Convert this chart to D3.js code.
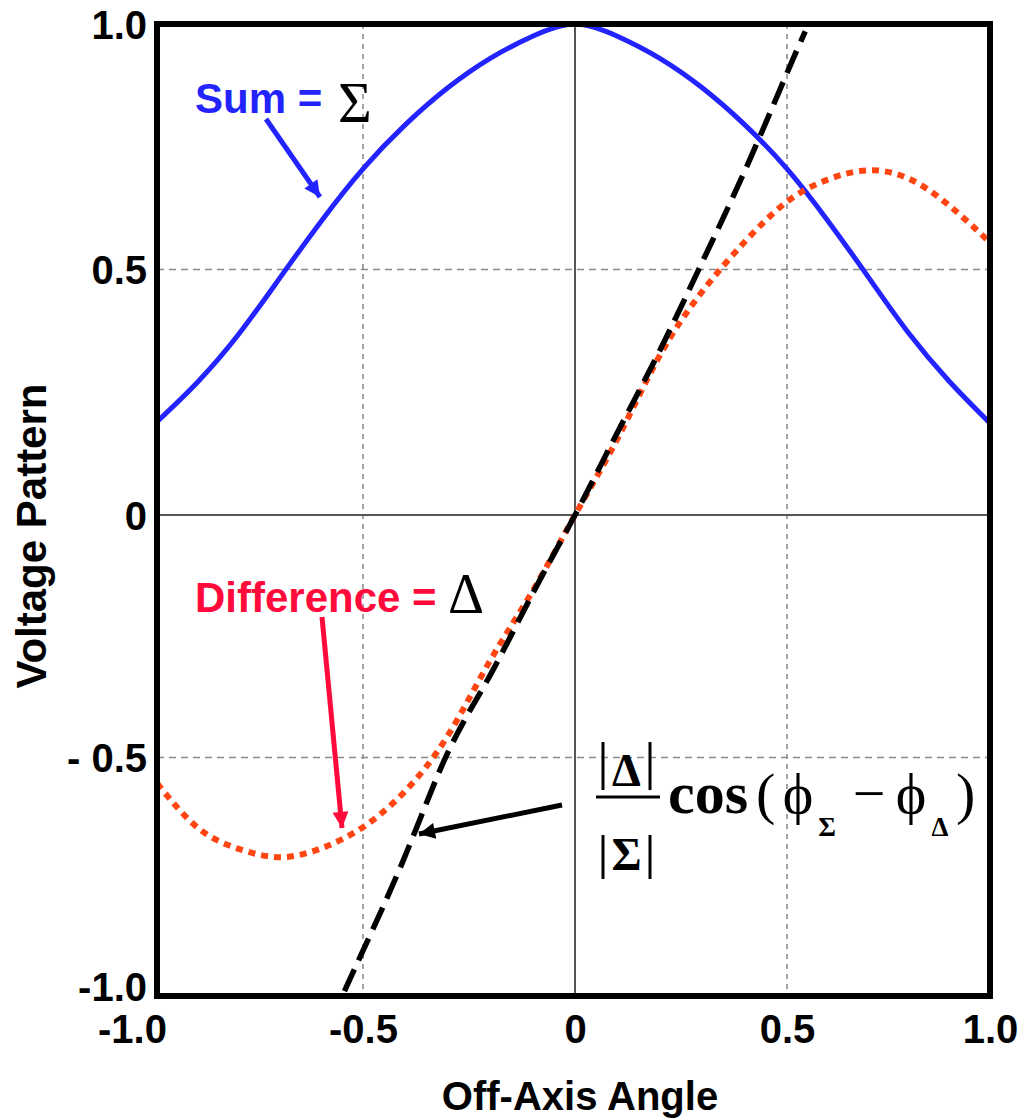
<!DOCTYPE html>
<html>
<head>
<meta charset="utf-8">
<script src="https://cdn.jsdelivr.net/npm/d3@7"></script>
<style>
  body { margin: 0; background: #fff; }
  svg { display: block; }
  .lbl { font-family: "Liberation Sans", Arial, sans-serif; font-weight: bold; }
  .math { font-family: "Liberation Serif", "Times New Roman", serif; font-weight: bold; }
</style>
</head>
<body>
<div id="chart"></div>
<script>
// values
var angles = [-1, -0.9, -0.8, -0.7, -0.6, -0.5, -0.4, -0.3, -0.2, -0.1, 0,
              0.1, 0.2, 0.3, 0.4, 0.5, 0.6, 0.7, 0.8, 0.9, 1];
var sumVals = [0.19, 0.272, 0.37, 0.485, 0.60, 0.705, 0.795, 0.87, 0.93, 0.975, 1.0,
               0.975, 0.93, 0.87, 0.795, 0.705, 0.60, 0.485, 0.37, 0.272, 0.187];
var diffVals = [-0.554, -0.648, -0.692, -0.709, -0.69, -0.646, -0.57, -0.455, -0.30, -0.157, 0,
                0.155, 0.325, 0.455, 0.556, 0.638, 0.683, 0.702, 0.685, 0.63, 0.555];
var ratioAngles = [-0.545, -0.5, -0.4, -0.3, -0.2, -0.1, 0, 0.1, 0.2, 0.3, 0.4, 0.5, 0.545];
var ratioVals = [-0.99, -0.905, -0.705, -0.49, -0.33, -0.162, 0, 0.168, 0.335, 0.515, 0.70, 0.90, 0.985];

var xTicks = [-1, -0.5, 0, 0.5, 1];
var xTickLabels = ['-1.0', '-0.5', '0', '0.5', '1.0'];
var yTicks = [1, 0.5, 0, -0.5, -1];
var yTickLabels = ['1.0', '0.5', '0', '- 0.5', '-1.0'];

var svg = d3.select('#chart')
    .append('svg')
        .attr('width', 1024)
        .attr('height', 1119);

// the original plot is slightly uneven, so the scales are piecewise
var x = d3.scaleLinear()
    .domain([-1, -0.5, 0, 0.5, 1])
    .range([157, 363, 575, 787, 990]);

var y = d3.scaleLinear()
    .domain([-1, -0.5, 0, 0.5, 1])
    .range([996, 757.5, 515, 269.5, 24]);

// grid
svg.selectAll('.vgrid')
    .data(xTicks.filter(d => Math.abs(d) === 0.5))
    .enter()
    .append('line')
        .attr('x1', d => x(d)).attr('x2', d => x(d))
        .attr('y1', y(1)).attr('y2', y(-1))
        .style('stroke', '#8c8c8c')
        .style('stroke-width', 1.6)
        .style('stroke-dasharray', '5,5');

svg.selectAll('.hgrid')
    .data(yTicks.filter(d => Math.abs(d) === 0.5))
    .enter()
    .append('line')
        .attr('y1', d => y(d)).attr('y2', d => y(d))
        .attr('x1', x(-1)).attr('x2', x(1))
        .style('stroke', '#8c8c8c')
        .style('stroke-width', 1.6)
        .style('stroke-dasharray', '7,5');

svg.append('line')
    .attr('x1', x(0)).attr('x2', x(0))
    .attr('y1', y(1)).attr('y2', y(-1))
    .style('stroke', '#555')
    .style('stroke-width', 2);

svg.append('line')
    .attr('x1', x(-1)).attr('x2', x(1))
    .attr('y1', y(0)).attr('y2', y(0))
    .style('stroke', '#555')
    .style('stroke-width', 2);

// curves
var line = d3.line()
    .x(d => x(d[0]))
    .y(d => y(d[1]))
    .curve(d3.curveNatural);

svg.append('path')
    .attr('d', line(d3.zip(angles, sumVals)))
    .style('fill', 'none')
    .style('stroke', '#2323ff')
    .style('stroke-width', 5);

svg.append('path')
    .attr('d', line(d3.zip(angles, diffVals)))
    .style('fill', 'none')
    .style('stroke', '#ff4512')
    .style('stroke-width', 6)
    .style('stroke-dasharray', '7,6');

svg.append('path')
    .attr('d', line(d3.zip(ratioAngles, ratioVals)))
    .style('fill', 'none')
    .style('stroke', '#000')
    .style('stroke-width', 5.5)
    .style('stroke-dasharray', '24,10');

// frame
svg.append('rect')
    .attr('x', x(-1)).attr('y', y(1))
    .attr('width', x(1) - x(-1))
    .attr('height', y(-1) - y(1))
    .style('fill', 'none')
    .style('stroke', '#000')
    .style('stroke-width', 6);

// axes labels
var xAxis = d3.axisBottom(x)
    .tickValues(xTicks)
    .tickFormat((d, i) => xTickLabels[i])
    .tickSize(0)
    .tickPadding(0);

svg.append('g')
    .attr('transform', 'translate(0,1043)')
    .call(xAxis)
    .call(g => g.select('.domain').remove())
    .selectAll('text')
        .attr('class', 'lbl')
        .attr('dy', 0)
        .attr('dx', (d, i) => i === 0 ? -25 : 0)
        .style('font-size', '40px')
        .style('fill', '#000');

var yAxis = d3.axisLeft(y)
    .tickValues(yTicks)
    .tickFormat((d, i) => yTickLabels[i])
    .tickSize(0)
    .tickPadding(0);

svg.append('g')
    .attr('transform', 'translate(147,0)')
    .call(yAxis)
    .call(g => g.select('.domain').remove())
    .selectAll('text')
        .attr('class', 'lbl')
        .attr('dy', (d, i) => i === 4 ? '0.1em' : '0.36em')
        .style('font-size', '40px')
        .style('fill', '#000');

svg.append('text')
    .attr('class', 'lbl')
    .attr('x', 580).attr('y', 1110)
    .attr('text-anchor', 'middle')
    .style('font-size', '40px')
    .text('Off-Axis Angle');

svg.append('text')
    .attr('class', 'lbl')
    .attr('transform', 'translate(46,536) rotate(-90)')
    .attr('text-anchor', 'middle')
    .style('font-size', '42px')
    .text('Voltage Pattern');

// arrow heads
function marker(id, color) {
    svg.append('defs').append('marker')
        .attr('id', id)
        .attr('viewBox', '0 0 10 10')
        .attr('refX', 10).attr('refY', 5)
        .attr('markerUnits', 'userSpaceOnUse')
        .attr('markerWidth', 20).attr('markerHeight', 16)
        .attr('orient', 'auto')
        .append('path')
            .attr('d', 'M0,0 L10,5 L0,10 Z')
            .style('fill', color);
}
marker('ah-blue', '#2323ff');
marker('ah-red', '#ff0a3a');
marker('ah-black', '#000');

// annotations
svg.append('text')
    .attr('class', 'lbl')
    .attr('x', 195).attr('y', 113)
    .style('font-size', '42px')
    .style('fill', '#2323ff')
    .text('Sum =');

svg.append('text')
    .attr('class', 'math')
    .attr('x', 338).attr('y', 122)
    .style('font-size', '58px')
    .style('font-weight', 'normal')
    .text('Σ');

svg.append('line')
    .attr('x1', 266).attr('y1', 119)
    .attr('x2', 320).attr('y2', 197)
    .attr('marker-end', 'url(#ah-blue)')
    .style('stroke', '#2323ff')
    .style('stroke-width', 5);

svg.append('text')
    .attr('class', 'lbl')
    .attr('x', 195).attr('y', 612)
    .style('font-size', '42px')
    .style('fill', '#ff0a3a')
    .text('Difference =');

svg.append('text')
    .attr('class', 'math')
    .attr('x', 448).attr('y', 613)
    .style('font-size', '56px')
    .style('font-weight', 'normal')
    .text('Δ');

svg.append('line')
    .attr('x1', 322).attr('y1', 617)
    .attr('x2', 342).attr('y2', 828)
    .attr('marker-end', 'url(#ah-red)')
    .style('stroke', '#ff0a3a')
    .style('stroke-width', 5);

svg.append('line')
    .attr('x1', 562).attr('y1', 805)
    .attr('x2', 419).attr('y2', 834)
    .attr('marker-end', 'url(#ah-black)')
    .style('stroke', '#000')
    .style('stroke-width', 5);

// formula |Δ| / |Σ| cos(φΣ − φΔ)
var f = svg.append('g');
f.append('line')
    .attr('x1', 596).attr('x2', 660)
    .attr('y1', 797).attr('y2', 797)
    .style('stroke', '#000').style('stroke-width', 3);
[[603, 742, 790], [650, 742, 790], [603, 835, 879], [650, 835, 879]].forEach(b => {
    f.append('line')
        .attr('x1', b[0]).attr('x2', b[0])
        .attr('y1', b[1]).attr('y2', b[2])
        .style('stroke', '#000').style('stroke-width', 3);
});
f.append('text').attr('class', 'math')
    .attr('x', 626.5).attr('y', 786).attr('text-anchor', 'middle')
    .style('font-size', '46px').text('Δ');
f.append('text').attr('class', 'math')
    .attr('x', 626.5).attr('y', 870).attr('text-anchor', 'middle')
    .style('font-size', '46px').text('Σ');
f.append('text').attr('class', 'math')
    .attr('x', 668).attr('y', 813)
    .style('font-size', '60px').text('cos');
f.append('text').attr('class', 'math')
    .attr('x', 756).attr('y', 813)
    .style('font-size', '58px').style('font-weight', 'normal').text('(');
f.append('text').attr('class', 'math')
    .attr('x', 798).attr('y', 813).attr('text-anchor', 'middle')
    .style('font-size', '58px').style('font-weight', 'normal').text('ϕ');
f.append('text').attr('class', 'math')
    .attr('x', 827).attr('y', 836).attr('text-anchor', 'middle')
    .style('font-size', '27px').text('Σ');
f.append('text').attr('class', 'math')
    .attr('x', 869).attr('y', 813).attr('text-anchor', 'middle')
    .style('font-size', '58px').style('font-weight', 'normal').text('−');
f.append('text').attr('class', 'math')
    .attr('x', 911).attr('y', 813).attr('text-anchor', 'middle')
    .style('font-size', '58px').style('font-weight', 'normal').text('ϕ');
f.append('text').attr('class', 'math')
    .attr('x', 940).attr('y', 836).attr('text-anchor', 'middle')
    .style('font-size', '27px').text('Δ');
f.append('text').attr('class', 'math')
    .attr('x', 956).attr('y', 813)
    .style('font-size', '58px').style('font-weight', 'normal').text(')');
</script>
</body>
</html>
